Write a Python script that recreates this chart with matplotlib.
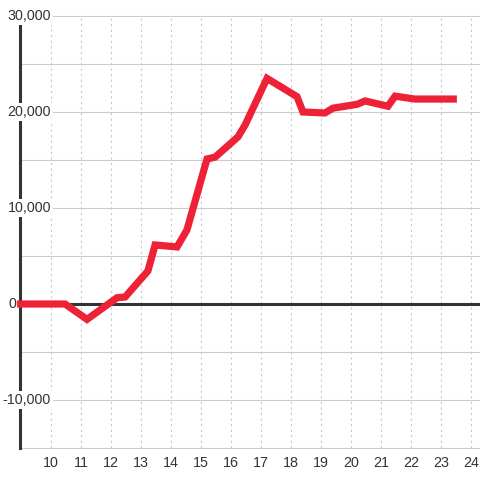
import matplotlib
matplotlib.use("Agg")
import matplotlib.pyplot as plt

# Data (hour of day, value)
hours = [8.87, 10.47, 11.2, 12.2, 12.47, 13.23, 13.47, 14.2, 14.53, 15.2, 15.47,
         16.23, 16.47, 17.2, 18.2, 18.4, 19.13, 19.4, 20.2, 20.47, 21.23, 21.47,
         22.13, 23.53]
values = [0, 0, -1600, 650, 730, 3440, 6150, 5940, 7700, 15100, 15300,
          17400, 18650, 23500, 21600, 20000, 19900, 20400, 20800, 21150, 20600, 21650,
          21350, 21350]

x_ticks = list(range(10, 25))
y_labeled = [30000, 20000, 10000, 0, -10000]
y_grid = [30000, 25000, 20000, 15000, 10000, 5000, 0, -5000, -10000, -15000]

plt.rcParams['font.family'] = ['Liberation Sans', 'DejaVu Sans']

fig = plt.figure(figsize=(4.8, 4.8), dpi=100)
ax = fig.add_axes([20/480, 32/480, 460/480, 432/480])
ax.set_xlim(8.967, 24.3)
ax.set_ylim(-15000, 30000)

for s in ['top', 'right', 'bottom']:
    ax.spines[s].set_visible(False)
ax.spines['left'].set_color('#333333')
ax.spines['left'].set_linewidth(2.2)
ax.spines['left'].set_zorder(2.5)

for v in y_grid:
    ax.axhline(v, color='#cccccc', lw=0.8, zorder=1, clip_on=False)
for h in x_ticks:
    ax.axvline(h, color='#c8c8c8', lw=0.8, ls=(0, (2, 3)), zorder=1)

ax.axhline(0, color='#333333', lw=2.2, zorder=2)

ax.set_yticks([])
ax.set_xticks(x_ticks)
ax.set_xticklabels([str(h) for h in x_ticks])
ax.tick_params(axis='x', length=0, pad=6, labelsize=10.3, labelcolor='#333333')

for v in y_labeled:
    if v == 0:
        ax.text((16 - 20) / 460, v, f"{v:,}", transform=ax.get_yaxis_transform(),
                ha='right', va='center', fontsize=10.3, color='#333333', zorder=3,
                clip_on=False)
    else:
        ax.text((51 - 20) / 460, v, f"{v:,}", transform=ax.get_yaxis_transform(),
                ha='right', va='center', fontsize=10.3, color='#333333', zorder=3,
                bbox=dict(fc='white', ec='none', pad=1.5))

ax.plot(hours, values, color='#EE2236', lw=5.2, solid_joinstyle='miter',
        solid_capstyle='butt', zorder=4, clip_on=False)

fig.savefig('out.png', dpi=100)
